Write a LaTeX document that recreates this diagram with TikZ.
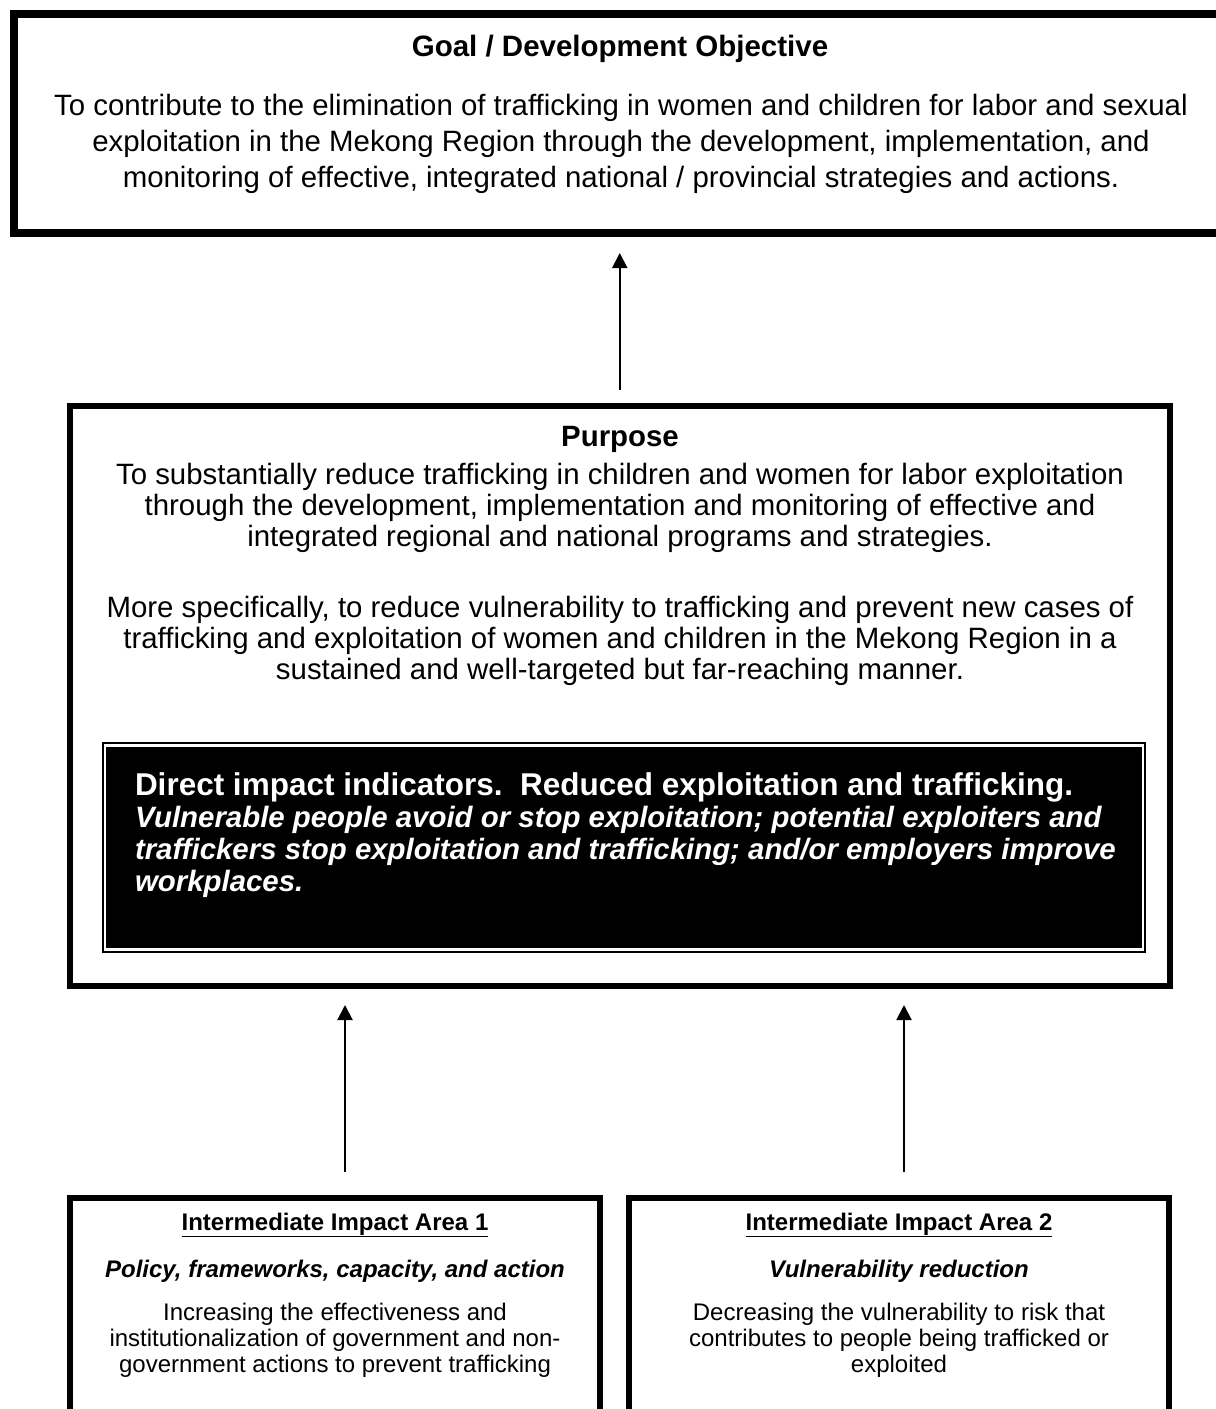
\documentclass[tikz,border=0pt]{standalone}
\usepackage{fontspec}
\setmainfont{Liberation Sans}
\usetikzlibrary{arrows.meta}
\begin{document}
\begin{tikzpicture}[x=1pt,y=-1pt,
  box/.style={draw=black, inner sep=0pt, outer sep=0pt, fill=white},
  txt/.style={inner sep=0pt, outer sep=0pt, align=center},
  bigtext/.style={txt, font=\fontsize{29.4}{36}\selectfont},
  midtext/.style={txt, font=\fontsize{29.4}{31}\selectfont},
  smalltext/.style={txt, font=\fontsize{24}{26}\selectfont},
  arrow/.style={line width=2pt, -{Triangle[length=15pt,width=15pt]}},
]
\useasboundingbox (0,0) rectangle (1216,1409);
\clip (0,0) rectangle (1216,1409);
\fill[white] (0,0) rectangle (1216,1409);

% Goal box (runs past the right edge)
\node[box, line width=8pt, minimum width=1218pt, minimum height=219.5pt] (goal) at (622.5,123.25) {};
\node[txt, font=\bfseries\fontsize{29.5}{36}\selectfont] (goaltitle) at (620,48.5) {Goal / Development Objective};
\node[bigtext] (goaltext) at (621,144) {To contribute to the elimination of trafficking in women and children for labor and sexual\\exploitation in the Mekong Region through the development, implementation, and\\monitoring of effective, integrated national / provincial strategies and actions.};

% Purpose box
\node[box, line width=6pt, minimum width=1099.5pt, minimum height=579.5pt] (purpose) at (619.75,695.75) {};
\node[txt, font=\bfseries\fontsize{29.4}{31}\selectfont] (purposetitle) at (620,439.5) {Purpose};
\node[midtext] (purposeone) at (620,507.5) {To substantially reduce trafficking in children and women for labor exploitation\\through the development, implementation and monitoring of effective and\\integrated regional and national programs and strategies.};
\node[midtext] (purposetwo) at (620,640.5) {More specifically, to reduce vulnerability to trafficking and prevent new cases of\\trafficking and exploitation of women and children in the Mekong Region in a\\sustained and well-targeted but far-reaching manner.};

% Direct impact indicators panel
\node[draw=black, fill=black, double=white, double distance=2.5pt, line width=1.8pt,
      inner sep=0pt, outer sep=0pt, minimum width=1038pt, minimum height=204pt] (impact) at (624,847.5) {};
\node[txt, align=left, anchor=west, text=white, font=\bfseries\fontsize{29.4}{32}\selectfont] (impacttext) at (135,835.5)
  {{\fontsize{31.5}{32}\selectfont Direct impact indicators.\ \ Reduced exploitation and trafficking.}\\
   {\itshape Vulnerable people avoid or stop exploitation; potential exploiters and}\\
   {\itshape traffickers stop exploitation and trafficking; and/or employers improve}\\
   {\itshape workplaces.}};

% Intermediate impact areas (run past the bottom edge)
\node[box, line width=6pt, minimum width=530pt, minimum height=250pt] (areaone) at (335,1322.5) {};
\node[box, line width=6pt, minimum width=540pt, minimum height=250pt] (areatwo) at (899,1322.5) {};

\node[smalltext, font=\bfseries\fontsize{24}{26}\selectfont] (areaonetitle) at (335,1225) {\underline{Intermediate Impact Area 1}};
\node[smalltext, font=\bfseries\itshape\fontsize{24}{26}\selectfont] (areaonesub) at (335,1271.5) {Policy, frameworks, capacity, and action};
\node[smalltext] (areaonetext) at (335,1340.5) {Increasing the effectiveness and\\institutionalization of government and non-\\government actions to prevent trafficking};

\node[smalltext, font=\bfseries\fontsize{24}{26}\selectfont] (areatwotitle) at (899,1225) {\underline{Intermediate Impact Area 2}};
\node[smalltext, font=\bfseries\itshape\fontsize{24}{26}\selectfont] (areatwosub) at (899,1271.5) {Vulnerability reduction};
\node[smalltext] (areatwotext) at (899,1340.5) {Decreasing the vulnerability to risk that\\contributes to people being trafficked or\\exploited};

% Connectors
\draw[arrow, shorten <=16pt, shorten >=20pt] (purpose.north) -- (purpose.north |- goal.south);
\draw[arrow, shorten <=25.5pt, shorten >=19.5pt] ([xshift=10pt]areaone.north) -- ([xshift=10pt]areaone.north |- purpose.south);
\draw[arrow, shorten <=25.5pt, shorten >=19.5pt] ([xshift=5pt]areatwo.north) -- ([xshift=5pt]areatwo.north |- purpose.south);
\end{tikzpicture}
\end{document}
